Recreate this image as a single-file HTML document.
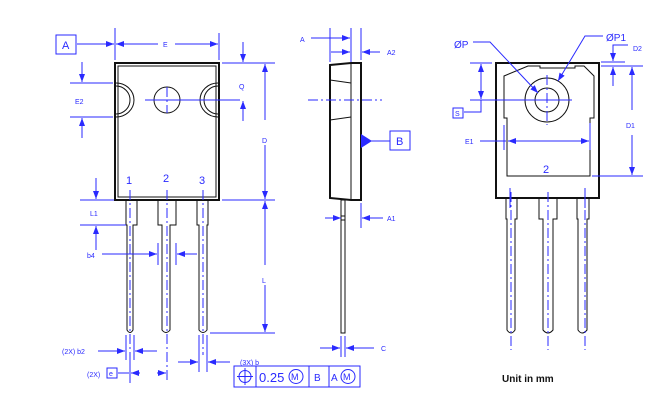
<!DOCTYPE html>
<html><head><meta charset="utf-8"><style>
html,body{margin:0;padding:0;background:#fff;}
svg{display:block;font-family:"Liberation Sans",sans-serif;}
.b{stroke:#2a2aff;stroke-width:1;fill:none}
.k{stroke:#111;stroke-width:1;fill:none}
.kk{stroke:#111;stroke-width:2;fill:none}
.c{stroke:#2a2aff;stroke-width:1;fill:none;stroke-dasharray:10 3 2 3}
text{fill:#2a2aff}
</style></head><body>
<svg width="672" height="419" viewBox="0 0 672 419" xmlns="http://www.w3.org/2000/svg" font-size="8">
<defs>
<marker id="a" markerWidth="8" markerHeight="6" refX="8" refY="3" orient="auto" markerUnits="userSpaceOnUse"><path d="M0,0L8,3L0,6z" fill="#2a2aff"/></marker>
</defs>
<!-- FRONT VIEW -->
<rect x="115" y="63" width="104" height="137" class="kk"/>
<rect x="118" y="66" width="98" height="131" class="k"/>
<path d="M116,83 A18,17 0 0 1 116,117" class="k" fill="#fff"/>
<path d="M116,86 A14,14 0 0 1 116,114" class="k"/>
<path d="M218,83 A18,17 0 0 0 218,117" class="k"/>
<path d="M218,86 A14,14 0 0 0 218,114" class="k"/>
<circle cx="167" cy="100" r="13" class="k"/>
<line x1="145" y1="100" x2="240" y2="100" class="b"/>
<line x1="167" y1="87" x2="167" y2="113" class="c"/>
<!-- leads front -->
<path d="M126,200V225H127V330Q130,335 133,330V225H137V200" class="k"/>
<path d="M158,200V225H162V330Q166,335 170,330V225H176V200" class="k"/>
<path d="M197,200V225H199V330Q203,335 207,330V225H208V200" class="k"/>
<line x1="130" y1="190" x2="130" y2="360" class="c"/>
<line x1="167" y1="190" x2="167" y2="383" class="c"/>
<line x1="203" y1="190" x2="203" y2="355" class="c"/>
<text x="126" y="184" font-size="11">1</text>
<text x="163" y="182" font-size="11">2</text>
<text x="199" y="184" font-size="11">3</text>
<!-- E -->
<rect x="56" y="35" width="20" height="19" class="b"/>
<text x="62" y="49" font-size="11">A</text>
<line x1="77" y1="44" x2="114" y2="44" class="b" marker-end="url(#a)"/>
<line x1="115" y1="28" x2="115" y2="60" class="b"/>
<line x1="219" y1="33" x2="219" y2="60" class="b"/>
<line x1="158" y1="44" x2="116" y2="44" class="b" marker-end="url(#a)"/>
<line x1="175" y1="44" x2="218" y2="44" class="b" marker-end="url(#a)"/>
<text x="163" y="47" font-size="7">E</text>
<!-- E2 -->
<line x1="70" y1="83" x2="113" y2="83" class="b"/>
<line x1="70" y1="117" x2="113" y2="117" class="b"/>
<line x1="82" y1="62" x2="82" y2="82" class="b" marker-end="url(#a)"/>
<line x1="82" y1="138" x2="82" y2="118" class="b" marker-end="url(#a)"/>
<text x="75" y="104" font-size="7">E2</text>
<!-- Q, D, L -->
<line x1="222" y1="63" x2="275" y2="63" class="b"/>
<line x1="243" y1="42" x2="243" y2="62" class="b" marker-end="url(#a)"/>
<line x1="243" y1="121" x2="243" y2="101" class="b" marker-end="url(#a)"/>
<text x="239" y="89" font-size="7">Q</text>
<line x1="265" y1="120" x2="265" y2="64" class="b" marker-end="url(#a)"/>
<line x1="265" y1="145" x2="265" y2="199" class="b" marker-end="url(#a)"/>
<text x="262" y="143" font-size="7">D</text>
<line x1="222" y1="200" x2="275" y2="200" class="b"/>
<line x1="265" y1="265" x2="265" y2="201" class="b" marker-end="url(#a)"/>
<line x1="265" y1="285" x2="265" y2="332" class="b" marker-end="url(#a)"/>
<text x="262" y="283" font-size="7">L</text>
<line x1="210" y1="333" x2="275" y2="333" class="b"/>
<!-- L1 -->
<line x1="80" y1="200" x2="114" y2="200" class="b"/>
<line x1="80" y1="225" x2="126" y2="225" class="b"/>
<line x1="96" y1="178" x2="96" y2="199" class="b" marker-end="url(#a)"/>
<line x1="96" y1="250" x2="96" y2="226" class="b" marker-end="url(#a)"/>
<text x="90" y="216" font-size="7">L1</text>
<!-- b4 -->
<text x="87" y="258" font-size="7">b4</text>
<line x1="102" y1="254" x2="157" y2="254" class="b" marker-end="url(#a)"/>
<line x1="197" y1="254" x2="177" y2="254" class="b" marker-end="url(#a)"/>
<line x1="158" y1="243" x2="158" y2="265" class="b"/>
<line x1="176" y1="243" x2="176" y2="265" class="b"/>
<!-- b2 -->
<text x="62" y="354" font-size="7">(2X) b2</text>
<line x1="98" y1="351" x2="125" y2="351" class="b" marker-end="url(#a)"/>
<line x1="157" y1="351" x2="135" y2="351" class="b" marker-end="url(#a)"/>
<line x1="126" y1="335" x2="126" y2="360" class="b"/>
<line x1="134" y1="335" x2="134" y2="360" class="b"/>
<!-- e -->
<text x="87" y="377" font-size="7">(2X)</text>
<rect x="107" y="368" width="10" height="10" class="b"/>
<text x="109" y="376" font-size="7">e</text>
<line x1="118" y1="373" x2="129" y2="373" class="b"/>
<line x1="140" y1="373" x2="131" y2="373" class="b" marker-end="url(#a)"/>
<line x1="157" y1="373" x2="166" y2="373" class="b" marker-end="url(#a)"/>
<line x1="130" y1="360" x2="130" y2="383" class="b"/>
<!-- b -->
<line x1="178" y1="362" x2="198" y2="362" class="b" marker-end="url(#a)"/>
<line x1="230" y1="362" x2="208" y2="362" class="b" marker-end="url(#a)"/>
<line x1="199" y1="335" x2="199" y2="372" class="b"/>
<line x1="207" y1="335" x2="207" y2="372" class="b"/>
<text x="240" y="365" font-size="7">(3X) b</text>
<!-- FCF -->
<rect x="234" y="366" width="126" height="21" class="b"/>
<line x1="256" y1="366" x2="256" y2="387" class="b"/>
<line x1="309" y1="366" x2="309" y2="387" class="b"/>
<line x1="329" y1="366" x2="329" y2="387" class="b"/>
<circle cx="245" cy="376.5" r="6" class="b"/>
<line x1="237" y1="376.5" x2="253" y2="376.5" class="b"/>
<line x1="245" y1="368" x2="245" y2="385" class="b"/>
<text x="259" y="382" font-size="13">0.25</text>
<circle cx="296" cy="376.5" r="7" class="b"/>
<text x="291" y="380" font-size="9">M</text>
<text x="314" y="381" font-size="10">B</text>
<text x="331" y="381" font-size="10">A</text>
<circle cx="348" cy="376.5" r="7" class="b"/>
<text x="343" y="380" font-size="9">M</text>
<!-- SIDE VIEW -->
<path d="M330,65L351,63H361V200H351L330,198Z" class="kk" stroke-width="1.5"/>
<line x1="351" y1="63" x2="351" y2="200" class="k"/>
<line x1="330" y1="80" x2="351" y2="83" class="k"/>
<line x1="330" y1="120" x2="351" y2="117" class="k"/>
<rect x="341" y="200" width="4" height="133" class="k"/>
<line x1="341" y1="216" x2="345" y2="216" class="k"/>
<line x1="341" y1="220" x2="345" y2="220" class="k"/>
<line x1="308" y1="100" x2="382" y2="100" class="c"/>
<line x1="330" y1="28" x2="330" y2="62" class="b"/>
<line x1="351" y1="28" x2="351" y2="62" class="b"/>
<line x1="361" y1="28" x2="361" y2="60" class="b"/>
<text x="300" y="42" font-size="7">A</text>
<line x1="311" y1="38" x2="350" y2="38" class="b" marker-end="url(#a)"/>
<line x1="340" y1="38" x2="331" y2="38" class="b"/>
<line x1="331" y1="52" x2="350" y2="52" class="b" marker-end="url(#a)"/>
<line x1="380" y1="52" x2="362" y2="52" class="b" marker-end="url(#a)"/>
<text x="387" y="55" font-size="7">A2</text>
<rect x="390" y="131" width="20" height="19" class="b"/>
<text x="396" y="145" font-size="11">B</text>
<line x1="390" y1="141" x2="370" y2="141" class="b"/>
<path d="M361,134L372,141L361,148Z" fill="#2a2aff"/>
<line x1="325" y1="218" x2="341" y2="218" class="b" marker-end="url(#a)"/>
<line x1="383" y1="218" x2="362" y2="218" class="b" marker-end="url(#a)"/>
<line x1="361" y1="203" x2="361" y2="228" class="b"/>
<text x="387" y="221" font-size="7">A1</text>
<line x1="341" y1="336" x2="341" y2="357" class="b"/>
<line x1="345" y1="336" x2="345" y2="357" class="b"/>
<line x1="320" y1="348" x2="340" y2="348" class="b" marker-end="url(#a)"/>
<line x1="374" y1="348" x2="346" y2="348" class="b" marker-end="url(#a)"/>
<text x="381" y="351" font-size="7">C</text>
<!-- RIGHT VIEW -->
<rect x="496" y="63" width="103" height="135" class="kk"/>
<path d="M504,76L528,66H540V68H575V66H584L594,76V118H590V176H507V118H504Z" class="k"/>
<circle cx="547" cy="100" r="22" class="k"/>
<circle cx="547" cy="100" r="12" class="k"/>
<line x1="470" y1="100" x2="572" y2="100" class="b"/>
<line x1="547" y1="75" x2="547" y2="125" class="c"/>
<line x1="504" y1="125" x2="504" y2="150" class="b"/>
<line x1="590" y1="123" x2="590" y2="150" class="b"/>
<line x1="480" y1="141" x2="506" y2="141" class="b"/>
<line x1="520" y1="141" x2="508" y2="141" class="b" marker-end="url(#a)"/>
<line x1="575" y1="141" x2="589" y2="141" class="b" marker-end="url(#a)"/>
<line x1="518" y1="141" x2="578" y2="141" class="b"/>
<text x="465" y="144" font-size="7">E1</text>
<text x="543" y="173" font-size="11">2</text>
<text x="454" y="48" font-size="10">ØP</text>
<path d="M473,42H490L538,93" class="b" marker-end="url(#a)"/>
<text x="606" y="41" font-size="10">ØP1</text>
<path d="M603,36H585L558,81" class="b" marker-end="url(#a)"/>
<line x1="470" y1="63" x2="492" y2="63" class="b"/>
<line x1="481" y1="82" x2="481" y2="64" class="b" marker-end="url(#a)"/>
<line x1="481" y1="82" x2="481" y2="99" class="b" marker-end="url(#a)"/>
<path d="M481,100V112H464" class="b"/>
<rect x="453" y="108" width="10" height="10" class="b"/>
<text x="455" y="116" font-size="7">S</text>
<line x1="601" y1="62" x2="625" y2="62" class="b"/>
<line x1="601" y1="66" x2="643" y2="66" class="b"/>
<line x1="613" y1="48" x2="613" y2="61" class="b" marker-end="url(#a)"/>
<line x1="613" y1="86" x2="613" y2="67" class="b" marker-end="url(#a)"/>
<path d="M613,48V45H628" class="b"/>
<text x="633" y="51" font-size="7">D2</text>
<line x1="632" y1="110" x2="632" y2="67" class="b" marker-end="url(#a)"/>
<line x1="632" y1="135" x2="632" y2="175" class="b" marker-end="url(#a)"/>
<line x1="592" y1="176" x2="643" y2="176" class="b"/>
<text x="626" y="128" font-size="7">D1</text>
<line x1="510" y1="188" x2="510" y2="208" class="b"/>
<line x1="585" y1="188" x2="585" y2="208" class="b"/>
<path d="M506,198V219H507V330Q511,336 515,330V219H517V198" class="k"/>
<path d="M539,198V219H543V330Q548,336 553,330V219H557V198" class="k"/>
<path d="M577,198V219H578V330Q582,336 587,330V219H589V198" class="k"/>
<line x1="511" y1="192" x2="511" y2="350" class="c"/>
<line x1="548" y1="192" x2="548" y2="350" class="c"/>
<line x1="585" y1="192" x2="585" y2="350" class="c"/>
<text x="502" y="382" style="fill:#111;font-size:10px;font-weight:bold">Unit in mm</text>
</svg>
</body></html>
